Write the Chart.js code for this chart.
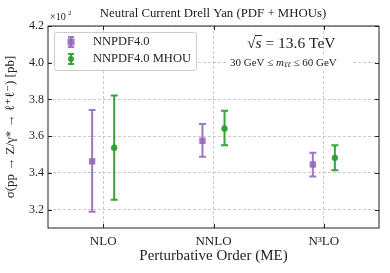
<!DOCTYPE html>
<html lang="en">
<head>
    <meta charset="UTF-8">
    <title>Neutral Current Drell Yan</title>
    <script src="https://cdn.jsdelivr.net/npm/chart.js"></script>
    <style>
        body { margin: 0; background: #fff; }
        #wrap { width: 390px; height: 273px; }
    </style>
</head>
<body>
    <div id="wrap">
        <canvas id="dyChart" width="390" height="273"></canvas>
    </div>
    <script>
        // data (units of 10^2 pb)
        const orders = ['NLO', 'NNLO', 'N³LO'];
        const pdfCentral = [3.463, 3.575, 3.446];
        const pdfLow = [3.188, 3.488, 3.381];
        const pdfHigh = [3.742, 3.666, 3.510];
        const mhouCentral = [3.537, 3.642, 3.482];
        const mhouLow = [3.254, 3.550, 3.414];
        const mhouHigh = [3.822, 3.739, 3.551];
        const yTicks = [3.2, 3.4, 3.6, 3.8, 4.0, 4.2];

        const purple = 'rgba(148, 103, 189, 0.9)';
        const green = 'rgba(44, 160, 44, 0.95)';
        const serif = '"Liberation Serif", "DejaVu Serif", serif';

        function points(vals, shift) {
            return vals.map((v, i) => ({ x: i + shift, y: v }));
        }

        // vertical error bars with caps, drawn through the chart scales
        const errorBars = {
            id: 'errorBars',
            beforeDatasetsDraw(chart) {
                const ctx = chart.ctx;
                const xs = chart.scales.x, ys = chart.scales.y;
                chart.data.datasets.forEach(ds => {
                    ctx.save();
                    ctx.strokeStyle = ds.borderColor;
                    ctx.lineWidth = 2;
                    ds.data.forEach((p, i) => {
                        const px = xs.getPixelForValue(p.x);
                        const lo = ys.getPixelForValue(ds.low[i]);
                        const hi = ys.getPixelForValue(ds.high[i]);
                        ctx.beginPath();
                        ctx.moveTo(px, lo); ctx.lineTo(px, hi);
                        ctx.moveTo(px - 3.5, lo); ctx.lineTo(px + 3.5, lo);
                        ctx.moveTo(px - 3.5, hi); ctx.lineTo(px + 3.5, hi);
                        ctx.stroke();
                    });
                    ctx.restore();
                });
            }
        };

        // frame, inward ticks, title, legend and annotation
        const decorations = {
            id: 'decorations',
            afterDraw(chart) {
                const ctx = chart.ctx;
                const a = chart.chartArea;
                const xs = chart.scales.x, ys = chart.scales.y;
                ctx.save();
                ctx.strokeStyle = '#222';
                ctx.lineWidth = 1;
                ctx.strokeRect(a.left, a.top, a.right - a.left, a.bottom - a.top);

                ctx.beginPath();
                yTicks.forEach(v => {
                    const py = Math.round(ys.getPixelForValue(v)) + 0.5;
                    ctx.moveTo(a.left, py); ctx.lineTo(a.left + 4, py);
                    ctx.moveTo(a.right, py); ctx.lineTo(a.right - 4, py);
                });
                orders.forEach((o, i) => {
                    const px = Math.round(xs.getPixelForValue(i)) + 0.5;
                    ctx.moveTo(px, a.bottom); ctx.lineTo(px, a.bottom - 4);
                    ctx.moveTo(px, a.top); ctx.lineTo(px, a.top + 4);
                });
                ctx.stroke();

                ctx.fillStyle = '#222';
                ctx.textBaseline = 'middle';
                ctx.textAlign = 'center';
                ctx.font = '12.8px ' + serif;
                ctx.fillText('Neutral Current Drell Yan (PDF + MHOUs)', 213, 14);

                // offset label
                ctx.textAlign = 'left';
                ctx.font = '10px ' + serif;
                ctx.fillText('×10', 50, 17);
                ctx.font = '7px ' + serif;
                ctx.fillText('2', 68, 13);

                // legend
                ctx.fillStyle = 'rgba(255,255,255,0.9)';
                ctx.strokeStyle = '#ccc';
                ctx.lineWidth = 1;
                ctx.beginPath();
                ctx.roundRect(54.5, 32.5, 142, 38, 2);
                ctx.fill(); ctx.stroke();
                const items = [
                    { label: 'NNPDF4.0', color: purple, y: 42, square: true },
                    { label: 'NNPDF4.0 MHOU', color: green, y: 59, square: false }
                ];
                items.forEach(it => {
                    const lx = 71;
                    ctx.strokeStyle = it.color;
                    ctx.fillStyle = it.color;
                    ctx.lineWidth = 2;
                    ctx.beginPath();
                    ctx.moveTo(lx, it.y - 5); ctx.lineTo(lx, it.y + 5);
                    ctx.moveTo(lx - 3, it.y - 5); ctx.lineTo(lx + 3, it.y - 5);
                    ctx.moveTo(lx - 3, it.y + 5); ctx.lineTo(lx + 3, it.y + 5);
                    ctx.stroke();
                    ctx.beginPath();
                    if (it.square) ctx.rect(lx - 3.5, it.y - 3.5, 7, 7);
                    else ctx.arc(lx, it.y, 3, 0, Math.PI * 2);
                    ctx.fill();
                    ctx.fillStyle = '#222';
                    ctx.font = '12.5px ' + serif;
                    ctx.textAlign = 'left';
                    ctx.fillText(it.label, 93, it.y);
                });

                // sqrt(s) annotation
                ctx.fillStyle = '#222';
                ctx.font = '15.5px ' + serif;
                let x = 247;
                const ty = 44;
                ctx.fillText('√', x, ty);
                x += ctx.measureText('√').width;
                ctx.font = 'italic 15.5px ' + serif;
                const sw = ctx.measureText('s').width;
                ctx.fillText('s', x, ty);
                ctx.strokeStyle = '#222';
                ctx.lineWidth = 0.9;
                ctx.beginPath();
                ctx.moveTo(x - 0.5, ty - 8.5); ctx.lineTo(x + sw + 0.5, ty - 8.5);
                ctx.stroke();
                x += sw;
                ctx.font = '15.5px ' + serif;
                ctx.fillText(' = 13.6 TeV', x, ty);

                // mass window box
                ctx.fillStyle = '#fff';
                ctx.fillRect(227, 55, 126, 15);
                ctx.fillStyle = '#222';
                ctx.font = '11px ' + serif;
                x = 230;
                const my = 63;
                ctx.fillText('30 GeV ≤ ', x, my);
                x += ctx.measureText('30 GeV ≤ ').width;
                ctx.font = 'italic 11px ' + serif;
                ctx.fillText('m', x, my);
                x += ctx.measureText('m').width;
                ctx.font = 'italic 8px ' + serif;
                ctx.fillText('ℓℓ', x, my + 2);
                x += ctx.measureText('ℓℓ').width;
                ctx.font = '11px ' + serif;
                ctx.fillText(' ≤ 60 GeV', x, my);
                ctx.restore();
            }
        };

        const ctx = document.getElementById('dyChart').getContext('2d');
        new Chart(ctx, {
            type: 'scatter',
            data: {
                datasets: [
                    {
                        label: 'NNPDF4.0',
                        data: points(pdfCentral, -0.1),
                        low: pdfLow,
                        high: pdfHigh,
                        borderColor: purple,
                        backgroundColor: purple,
                        pointStyle: 'rect',
                        pointRadius: 4.5,
                        borderWidth: 0
                    },
                    {
                        label: 'NNPDF4.0 MHOU',
                        data: points(mhouCentral, 0.1),
                        low: mhouLow,
                        high: mhouHigh,
                        borderColor: green,
                        backgroundColor: green,
                        pointStyle: 'circle',
                        pointRadius: 3.2,
                        borderWidth: 0
                    }
                ]
            },
            options: {
                responsive: false,
                animation: false,
                layout: { padding: { top: 26, right: 11, left: 0, bottom: 0 } },
                plugins: {
                    legend: { display: false },
                    tooltip: { enabled: false }
                },
                scales: {
                    x: {
                        type: 'linear',
                        min: -0.5,
                        max: 2.5,
                        afterBuildTicks: s => { s.ticks = orders.map((o, i) => ({ value: i })); },
                        afterFit: s => { s.height = 45; },
                        ticks: {
                            callback: v => orders[v],
                            color: '#222',
                            font: { family: serif, size: 13 },
                            padding: 6,
                            maxRotation: 0
                        },
                        grid: { color: '#bdbdbd', lineWidth: 0.8, tickLength: 0 },
                        border: { display: false, dash: [3, 2] },
                        title: {
                            display: true,
                            text: 'Perturbative Order (ME)',
                            color: '#222',
                            font: { family: serif, size: 15 },
                            padding: { top: 0, bottom: 8 }
                        }
                    },
                    y: {
                        min: 3.1,
                        max: 4.2,
                        afterBuildTicks: s => { s.ticks = yTicks.map(v => ({ value: v })); },
                        afterFit: s => { s.width = 48; },
                        ticks: {
                            callback: v => v.toFixed(1),
                            color: '#222',
                            font: { family: serif, size: 12 },
                            padding: 4
                        },
                        grid: { color: '#bdbdbd', lineWidth: 0.8, tickLength: 0 },
                        border: { display: false, dash: [3, 2] },
                        title: {
                            display: true,
                            text: 'σ(pp → Z/γ* → ℓ⁺ℓ⁻) [pb]',
                            color: '#222',
                            font: { family: serif, size: 13 },
                            padding: { top: 3, bottom: 0 }
                        }
                    }
                }
            },
            plugins: [errorBars, decorations]
        });
    </script>
</body>
</html>
